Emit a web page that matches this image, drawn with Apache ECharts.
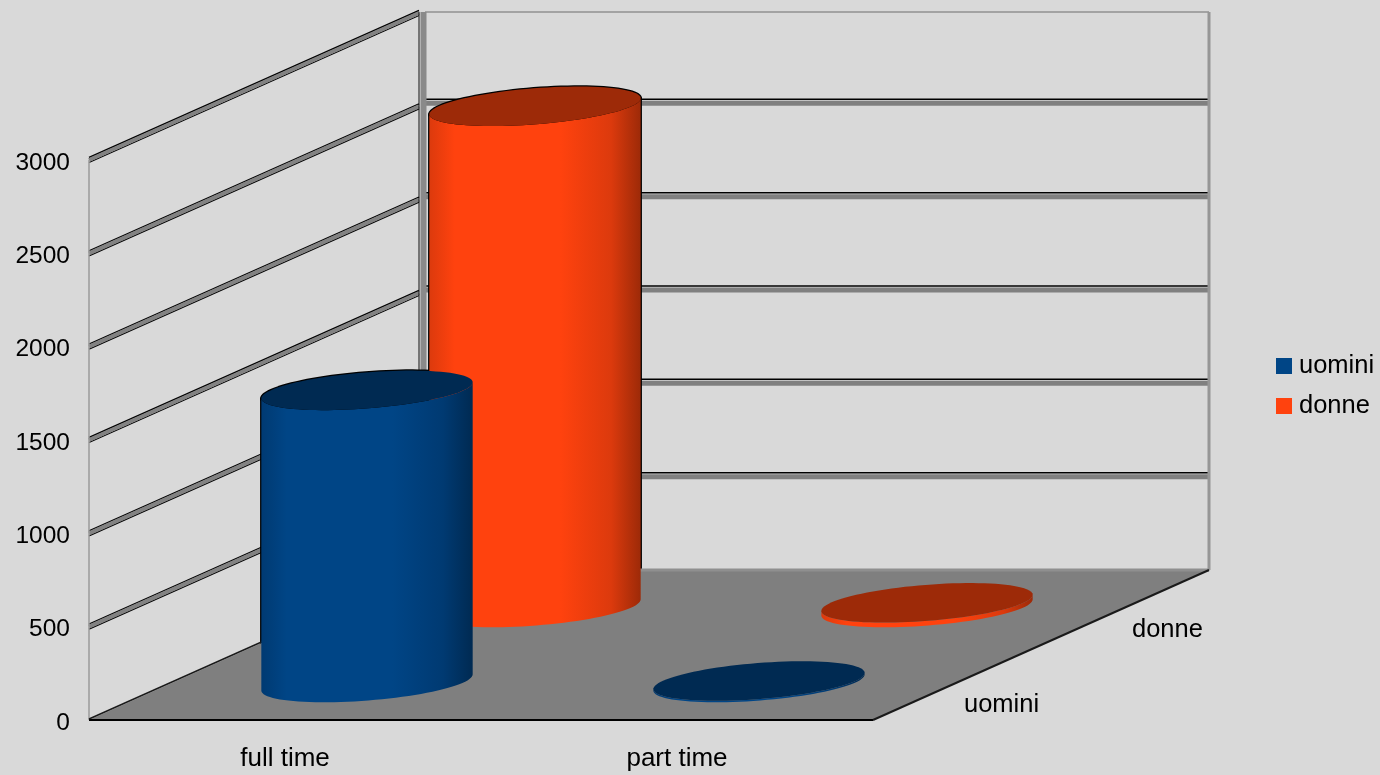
<!DOCTYPE html>
<html>
<head>
<meta charset="utf-8">
<title>full time / part time</title>
<style>html,body{margin:0;padding:0;background:#d9d9d9}#chart{width:1380px;height:775px}</style>
<script src="https://cdn.jsdelivr.net/npm/echarts@6/dist/echarts.min.js"></script>
</head>
<body>
<div id="chart"></div>
<script>
// Data
var categories = ['full time', 'part time'];
var seriesNames = ['uomini', 'donne'];
var uomini = [1565, 8];
var donne = [2685, 25];
var valueTicks = [0, 500, 1000, 1500, 2000, 2500, 3000];

// Oblique projection: how far the back of the box sits from its front
var DEPTH_X = 336, DEPTH_Y = -150;
var seriesDepth = [0.25, 0.75];
var BAR_SHIFT = -2;
var RX = 106, RY = 18, TILT = -4.5 * Math.PI / 180;

var colours = {
  uomini: { main: '#004586', soft: '#003a72', dark: '#002a52' },
  donne:  { main: '#ff420e', soft: '#dc3a0d', dark: '#9d2a08' }
};
var FONT = '"Liberation Sans", Arial, sans-serif';

function project(x, y, depth) {
  return [x + DEPTH_X * depth, y + DEPTH_Y * depth];
}

function ellipsePoint(c, t) {
  return [
    c[0] + RX * Math.cos(t) * Math.cos(TILT) - RY * Math.sin(t) * Math.sin(TILT),
    c[1] + RX * Math.cos(t) * Math.sin(TILT) + RY * Math.sin(t) * Math.cos(TILT)
  ];
}

// Outline of one cylinder wall: front half of the base, then back along the top
function sidePoints(base, top) {
  var pts = [], i;
  for (i = 0; i <= 48; i++) pts.push(ellipsePoint(base, Math.PI * i / 48));
  for (i = 48; i >= 0; i--) pts.push(ellipsePoint(top, Math.PI * i / 48));
  return pts;
}

function capPoints(c) {
  var pts = [];
  for (var i = 0; i < 96; i++) pts.push(ellipsePoint(c, 2 * Math.PI * i / 96));
  return pts;
}

function cylinderCentres(api, depth) {
  var base = api.coord([api.value(0), 0]);
  var top = api.coord([api.value(0), api.value(1)]);
  var b = project(base[0] + BAR_SHIFT, base[1], depth);
  var t = project(top[0] + BAR_SHIFT, top[1], depth);
  return { base: b, top: t };
}

function renderCylinder(name, depth) {
  var c = colours[name];
  return function (params, api) {
    var pos = cylinderCentres(api, depth);
    return {
      type: 'group',
      children: [
        {
          type: 'polygon',
          shape: { points: sidePoints(pos.base, pos.top) },
          style: {
            fill: new echarts.graphic.LinearGradient(0, 0, 1, 0, [
              { offset: 0, color: c.soft },
              { offset: 0.12, color: c.main },
              { offset: 0.62, color: c.main },
              { offset: 0.86, color: c.soft },
              { offset: 1, color: c.dark }
            ])
          }
        },
        { type: 'polygon', shape: { points: capPoints(pos.top) }, style: { fill: c.dark } }
      ]
    };
  };
}

// Thin black edge where a cylinder stands against the walls; the floor covers its lower part
function renderHalo(depth) {
  return function (params, api) {
    var pos = cylinderCentres(api, depth);
    var edge = { fill: '#000000', stroke: '#000000', lineWidth: 2.5, lineJoin: 'round' };
    return {
      type: 'group',
      children: [
        { type: 'polygon', shape: { points: sidePoints(pos.base, pos.top) }, style: edge },
        { type: 'polygon', shape: { points: capPoints(pos.top) }, style: edge }
      ]
    };
  };
}

function seg(a, b, colour, width, dy) {
  var off = dy || 0;
  return {
    type: 'line',
    shape: { x1: a[0], y1: a[1] + off, x2: b[0], y2: b[1] + off },
    style: { stroke: colour, lineWidth: width, lineCap: 'butt' }
  };
}

// One level of the box: diagonal on the side wall plus horizontal on the back wall
function renderLevel(params, api) {
  var v = api.value(1);
  var cs = params.coordSys;
  var y = api.coord([0, v])[1];
  var left = [cs.x, y];
  var corner = project(cs.x, y, 1);
  var right = project(cs.x + cs.width, y, 1);
  var end = [corner[0] - 6, corner[1] + 3];
  var children = [];
  if (v === 0) return { type: 'group', children: children };
  children.push(seg(left, end, '#000000', 1.5, -2.5));
  children.push(seg(left, end, '#000000', 1.2, 2.5));
  children.push(seg(left, end, '#828282', 4));
  if (v === valueTicks[valueTicks.length - 1]) {
    children.push(seg(corner, right, '#a3a3a3', 2, 2));
  } else {
    children.push(seg(corner, right, '#000000', 1.5, -4));
    children.push(seg(corner, right, '#808080', 5));
  }
  return { type: 'group', children: children };
}

// Fixed frame of the box: side edge, back corner post and right edge
function renderFrame(params, api) {
  var cs = params.coordSys;
  var yTop = api.coord([0, 3000])[1], yBot = api.coord([0, 0])[1];
  var backTop = project(cs.x, yTop, 1), backBot = project(cs.x, yBot, 1);
  var rTop = project(cs.x + cs.width, yTop, 1), rBot = project(cs.x + cs.width, yBot, 1);
  return {
    type: 'group',
    children: [
      seg([cs.x, yTop], [cs.x, yBot], '#9a9a9a', 1.5),
      seg([backTop[0] - 6, backTop[1] + 2], [backBot[0] - 6, backBot[1]], '#111111', 1),
      seg([backTop[0] - 1.5, backTop[1] + 2], [backBot[0] - 1.5, backBot[1]], '#8a8a8a', 6),
      seg([rTop[0], rTop[1] + 2], rBot, '#969696', 3)
    ]
  };
}

function renderFloor(params, api) {
  var cs = params.coordSys;
  var y = api.coord([0, 0])[1];
  var a = [cs.x, y], b = [cs.x + cs.width, y];
  var c = project(b[0], y, 1), d = project(a[0], y, 1);
  return {
    type: 'group',
    children: [
      { type: 'polygon', shape: { points: [a, b, c, d] }, style: { fill: '#7f7f7f' } },
      seg(d, c, '#8f8f8f', 3),
      seg(a, b, '#000000', 2),
      seg(a, d, '#1a1a1a', 1.5, -1),
      seg(b, c, '#1a1a1a', 2)
    ]
  };
}

// Names of the depth rows, beside the right edge of the floor
function renderDepthLabel(params, api) {
  var cs = params.coordSys;
  var y = api.coord([0, 0])[1];
  var p = project(cs.x + cs.width, y, seriesDepth[params.dataIndex]);
  return {
    type: 'text',
    x: p[0] + 7,
    y: p[1] + 22.5,
    style: {
      text: seriesNames[params.dataIndex],
      fill: '#000000',
      font: '25.5px ' + FONT,
      align: 'left',
      verticalAlign: 'middle'
    }
  };
}

function points(values) {
  return values.map(function (v, i) { return [i, v]; });
}

function customSeries(name, data, render, color) {
  var s = {
    type: 'custom',
    name: name,
    data: data,
    encode: { x: 0, y: 1 },
    renderItem: render,
    silent: true,
    animation: false
  };
  if (color) s.itemStyle = { color: color };
  return s;
}

var chart = echarts.init(document.getElementById('chart'), null, { renderer: 'canvas' });
chart.setOption({
  backgroundColor: '#d9d9d9',
  animation: false,
  grid: { left: 89, top: 160, width: 784, height: 560 },
  xAxis: {
    type: 'category',
    data: categories,
    axisLine: { show: false },
    axisTick: { show: false },
    splitLine: { show: false },
    axisLabel: { color: '#000000', fontFamily: FONT, fontSize: 26, margin: 26 }
  },
  yAxis: {
    type: 'value',
    min: 0,
    max: 3000,
    interval: 500,
    axisLine: { show: false },
    axisTick: { show: false },
    splitLine: { show: false },
    axisLabel: {
      margin: 19,
      formatter: function (v) { return '{n|' + v + '}'; },
      rich: {
        n: { color: '#000000', fontFamily: FONT, fontSize: 24.5, padding: [6, 0, 0, 0] }
      }
    }
  },
  legend: {
    data: seriesNames,
    orient: 'vertical',
    left: 1276,
    top: 353,
    padding: 0,
    icon: 'rect',
    itemWidth: 16,
    itemHeight: 16,
    itemGap: 14,
    selectedMode: false,
    textStyle: { color: '#000000', fontFamily: FONT, fontSize: 25.5, padding: [0, 0, 0, 2] }
  },
  series: [
    customSeries('livelli', valueTicks.map(function (v) { return [0, v]; }), renderLevel),
    customSeries('cornice', [[0, 0]], renderFrame),
    customSeries('bordo donne', points(donne), renderHalo(seriesDepth[1])),
    customSeries('bordo uomini', points(uomini), renderHalo(seriesDepth[0])),
    customSeries('pavimento', [[0, 0]], renderFloor),
    customSeries('donne', points(donne), renderCylinder('donne', seriesDepth[1]), colours.donne.main),
    customSeries('uomini', points(uomini), renderCylinder('uomini', seriesDepth[0]), colours.uomini.main),
    customSeries('righe', seriesNames.map(function (n, i) { return [i, 0]; }), renderDepthLabel)
  ]
});
</script>
</body>
</html>
